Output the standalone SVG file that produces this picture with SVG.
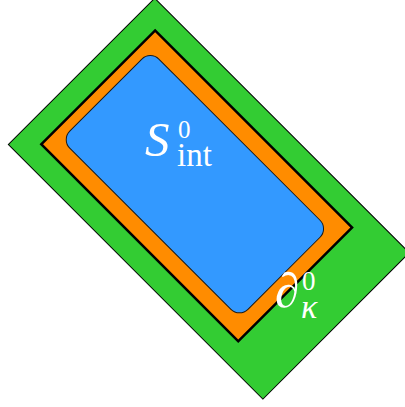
<svg xmlns="http://www.w3.org/2000/svg" width="405" height="407" viewBox="0 0 405 407">
<style>
.lbl{fill:#ffffff;font-family:"Liberation Serif","DejaVu Serif",serif;}
.it{font-style:italic;}
</style>
<rect width="405" height="407" fill="#ffffff"/>
<g id="outer">
<rect x="-180" y="-103.5" width="360" height="207" transform="translate(208.8,198.7) rotate(45)" fill="#33cc33" stroke="#000000" stroke-width="1"/>
</g>
<g id="boundary">
<rect x="-139.25" y="-80.5" width="278.5" height="161" transform="translate(196.7,185.9) rotate(45)" fill="#ff8c00" stroke="#000000" stroke-width="2.5"/>
</g>
<g id="interior">
<rect x="-126" y="-63" width="252" height="126" rx="12" ry="12" transform="translate(194.9,184.2) rotate(45)" fill="#3399ff" stroke="#1a1a1a" stroke-width="1"/>
</g>
<g id="labels">
<text class="lbl it" x="145" y="156" font-size="49">S</text>
<text class="lbl" x="178" y="138" font-size="25">0</text>
<text class="lbl" x="177" y="166" font-size="33">int</text>
<text class="lbl it" x="275" y="307" font-size="49">∂</text>
<text class="lbl" x="302" y="290" font-size="27">0</text>
<text class="lbl it" x="301" y="318" font-size="34">κ</text>
</g>
<g id="connectors"></g>
</svg>
